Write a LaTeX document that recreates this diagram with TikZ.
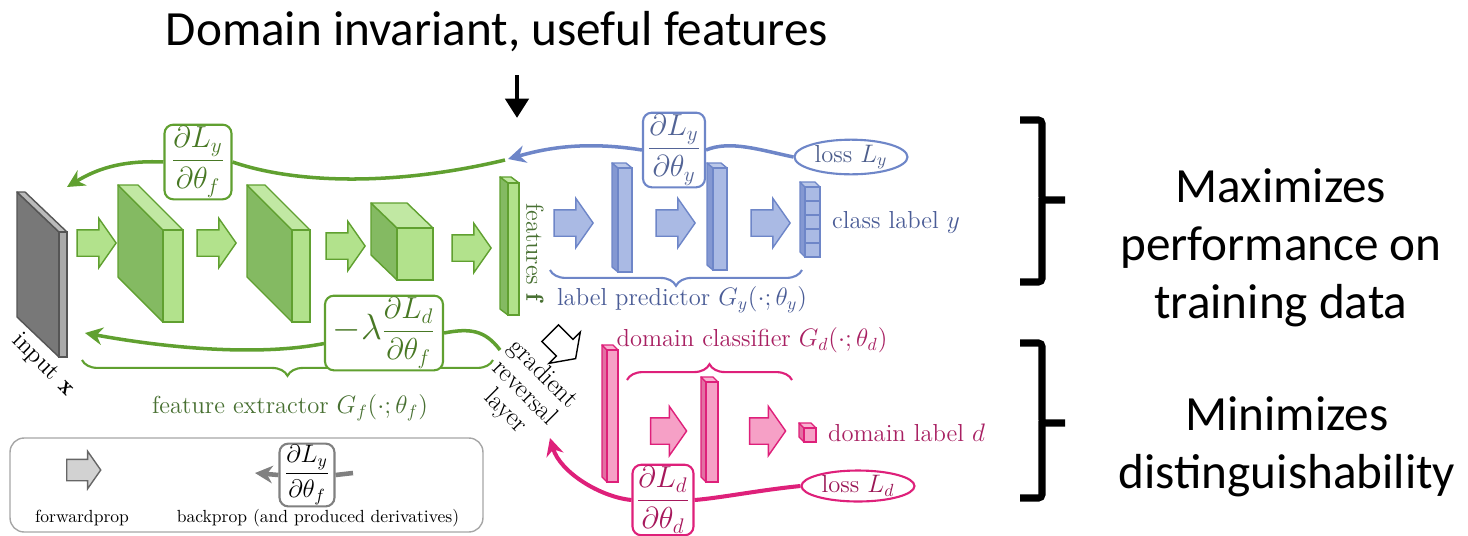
\documentclass[tikz,border=0pt]{standalone}
\usepackage{amsmath}
\usepackage{fontspec}
\newfontfamily\slidefont{Carlito}
\usepackage{tikz}
\usetikzlibrary{shapes.geometric, shapes.arrows, arrows.meta, positioning, decorations.pathreplacing}
\definecolor{inedge}{RGB}{85,85,85}
\definecolor{infront}{RGB}{170,170,170}
\definecolor{inside}{RGB}{120,120,120}
\definecolor{feedge}{RGB}{96,160,48}
\definecolor{fefront}{RGB}{178,226,140}
\definecolor{feside}{RGB}{132,186,98}
\definecolor{fetext}{RGB}{72,112,50}
\definecolor{lpedge}{RGB}{110,134,200}
\definecolor{lpfront}{RGB}{170,186,228}
\definecolor{lpside}{RGB}{132,152,210}
\definecolor{lptext}{RGB}{74,92,150}
\definecolor{dcedge}{RGB}{222,32,122}
\definecolor{dcfront}{RGB}{246,160,198}
\definecolor{dcside}{RGB}{226,112,162}
\definecolor{dctext}{RGB}{168,32,98}

% 3D layer: front top-left corner, width, height, depth offset, edge/front/side colours
\newcommand{\layerblock}[9]{%
  \filldraw[draw=#7, fill=#9, line join=round, line width=0.8pt] (#1,#2) -- ++(-#5,-#6) -- ++(0,#4) -- ++(#5,#6) -- cycle;
  \filldraw[draw=#7, fill=#8!80!white, line join=round, line width=0.8pt] (#1,#2) -- ++(-#5,-#6) -- ++(#3,0) -- ++(#5,#6) -- cycle;
  \filldraw[draw=#7, fill=#8, line width=0.8pt] (#1,#2) rectangle ++(#3,#4);
}

\begin{document}
\begin{tikzpicture}[x=0.02cm, y=-0.02cm,
    lbl/.style={font=\fontsize{14}{14.5}\selectfont},
    headtext/.style={font=\slidefont\fontsize{28}{33}\selectfont},
    fwd/.style 2 args={single arrow, draw=#1, fill=#2, line width=0.8pt, inner xsep=0pt, inner ysep=0.25cm,
      minimum height=0.78cm, single arrow head extend=0.23cm, single arrow tip angle=110},
    dbox/.style={draw=#1, text=#1!75!black, rounded corners=5pt, fill=white, line width=1.2pt,
      inner sep=1pt, font=\fontsize{18}{20}\selectfont},
    loss/.style={ellipse, draw=#1, text=#1!70!black, fill=white, line width=1.2pt, inner sep=0pt,
      minimum width=2.26cm, minimum height=0.62cm, font=\fontsize{14}{16}\selectfont},
    back/.style={draw=#1, line width=2pt},
    backtip/.style={back=#1, -{Stealth[length=10pt, width=10pt]}},
    brc/.style={decorate, decoration={brace, amplitude=9pt}, draw=#1, line width=1.2pt},
    bigbracket/.style={line width=4pt, rounded corners=2pt}
]
\useasboundingbox (0,0) rectangle (1468,535);

% feature extractor
\layerblock{59}{232}{8}{125}{42}{40}{inedge}{infront}{inside}
\layerblock{163}{230}{20}{92}{45}{45}{feedge}{fefront}{feside}
\layerblock{292}{230}{18}{92}{45}{45}{feedge}{fefront}{feside}
\layerblock{397}{228}{36}{52}{26}{25}{feedge}{fefront}{feside}
\layerblock{508}{183}{11}{132}{8}{6}{feedge}{fefront}{feside}
\node[fwd={feedge}{fefront}] (fe1) at (92,243) {};
\node[fwd={feedge}{fefront}] (fe2) at (212,243) {};
\node[fwd={feedge}{fefront}] (fe3) at (341,246) {};
\node[fwd={feedge}{fefront}] (fe4) at (467,248) {};

% label predictor
\layerblock{618}{168}{14}{104}{6}{5}{lpedge}{lpfront}{lpside}
\layerblock{713}{168}{14}{102}{6}{5}{lpedge}{lpfront}{lpside}
\layerblock{805}{187}{15}{70}{5}{5}{lpedge}{lpfront}{lpside}
\foreach \k in {1,...,4}
  \draw[lpedge, line width=0.8pt] (805,{187+14*\k}) -- ++(15,0);
\node[fwd={lpedge}{lpfront}] (lp1) at (569,223) {};
\node[fwd={lpedge}{lpfront}] (lp2) at (671,223) {};
\node[fwd={lpedge}{lpfront}] (lp3) at (766,223) {};

% domain classifier
\layerblock{607}{350}{11}{132}{5}{5}{dcedge}{dcfront}{dcside}
\layerblock{706}{382}{12}{100}{5}{5}{dcedge}{dcfront}{dcside}
\layerblock{804}{428}{12}{14}{5}{5}{dcedge}{dcfront}{dcside}
\node[fwd={dcedge}{dcfront}, minimum height=0.72cm] (dc1) at (664,431) {};
\node[fwd={dcedge}{dcfront}, minimum height=0.72cm] (dc2) at (763,431) {};

% gradient reversal
\node[fwd={black}{white}, minimum height=0.72cm, inner ysep=0.22cm, single arrow head extend=0.21cm, rotate=-45] (grl) at (560,343) {};

% labels
\node[lbl, text=fetext, rotate=-90] (featlbl) at (535,252) {features $\mathbf{f}$};
\node[lbl, rotate=-45] (inputlbl) at (43,365) {input $\mathbf{x}$};
\node[lbl, font=\fontsize{15}{15}\selectfont, rotate=-45, align=center] (grllbl) at (524,393) {gradient\\reversal\\layer};
\node[lbl, text=lptext, anchor=west] (classlbl) at (826,222) {class label $y$};
\node[lbl, text=dctext, anchor=west] (domainlbl) at (822,433) {domain label $d$};
\node[lbl, text=fetext] (felbl) at (290,408) {feature extractor $G_f(\cdot;\theta_f)$};
\node[lbl, text=lptext] (lplbl) at (682,300) {label predictor $G_y(\cdot;\theta_y)$};
\node[lbl, text=dctext] (dclbl) at (752,340) {domain classifier $G_d(\cdot;\theta_d)$};

\draw[brc=feedge, decoration={mirror}] (82,360) -- (493,360);
\draw[brc=lpedge, decoration={mirror}] (550,270) -- (802,270);
\draw[brc=dcedge] (627,380) -- (792,380);

% derivatives and losses
\node[dbox=feedge, minimum width=1.34cm, minimum height=1.4cm] (dLyf) at (198,162) {$\dfrac{\partial L_y}{\partial\theta_f}$};
\node[dbox=lpedge, minimum width=1.24cm, minimum height=1.3cm] (dLyy) at (674,150) {$\dfrac{\partial L_y}{\partial\theta_y}$};
\node[dbox=feedge, minimum width=2.36cm, minimum height=1.34cm] (dLdf) at (384,333) {{\fontsize{21}{22}\selectfont$-\lambda$}$\dfrac{\partial L_d}{\partial\theta_f}$};
\node[dbox=dcedge, minimum width=1.22cm, minimum height=1.3cm] (dLdd) at (663,500) {$\dfrac{\partial L_d}{\partial\theta_d}$};
\node[loss=lpedge] (lossy) at (851,157) {loss $L_y$};
\node[loss=dcedge] (lossd) at (858,486) {loss $L_d$};

\coordinate (gtop) at (505,160);
\coordinate (xtop) at (67,187);
\coordinate (gbot) at (500,350);
\coordinate (xbot) at (85,333);
\coordinate (featin) at (508,159);
\coordinate (grlin) at (550,438);

% backprop
\draw[back=feedge] (gtop) .. controls (400,185) and (300,185) .. (dLyf.east);
\draw[backtip=feedge] (dLyf.west) .. controls (120,160) and (95,170) .. (xtop);
\draw[back=feedge] (gbot) .. controls (485,330) and (470,328) .. (dLdf.east);
\draw[backtip=feedge] ([yshift=-6pt]dLdf.west) .. controls (250,358) and (150,345) .. (xbot);
\draw[back=lpedge] (lossy.west) .. controls (760,150) and (730,140) .. (dLyy.east);
\draw[backtip=lpedge] (dLyy.west) .. controls (580,140) and (540,150) .. (featin);
\draw[back=dcedge, line width=2.3pt] (lossd.west) .. controls (760,490) and (720,498) .. (dLdd.east);
\draw[backtip=dcedge, line width=2.3pt] (dLdd.west) .. controls (600,497) and (560,472) .. (grlin);

% legend
\node[draw=gray!70, rounded corners=8pt, line width=0.8pt, minimum width=9.46cm, minimum height=1.88cm] (legend) at (246.5,485) {};
\node[fwd={gray!80!black}{gray!35}, minimum height=0.68cm, inner ysep=0.2cm, single arrow head extend=0.16cm] (lgfwd) at (80,470) {};
\node[dbox=gray, text=black, font=\fontsize{14}{16}\selectfont, minimum width=1.1cm, minimum height=1.08cm] (lgd) at (307,475) {$\dfrac{\partial L_y}{\partial\theta_f}$};
\coordinate (lgstart) at (353,473);
\coordinate (lgend) at (255,473);
\draw[back=gray, line width=2.6pt] (lgstart) -- (lgd.east);
\draw[backtip=gray, line width=2.6pt] (lgd.west) -- (lgend);
\node[font=\fontsize{10}{12}\selectfont] (fwdlbl) at (82,518) {forwardprop};
\node[font=\fontsize{10}{12}\selectfont] (backlbl) at (318,518) {backprop (and produced derivatives)};

% slide annotations
\node[headtext] (title) at (497,32) {Domain invariant, useful features};
\coordinate (titlearrow) at (517,75);
\coordinate (featpoint) at (517,118);
\draw[line width=2.8pt, -{Triangle[length=11pt, width=13pt]}] (titlearrow) -- (featpoint);

\draw[bigbracket] (1020,120) -| (1042,200) -- (1065,200);
\draw[bigbracket] (1042,198) |- (1020,282);
\draw[bigbracket] (1020,343) -| (1042,423) -- (1065,423);
\draw[bigbracket] (1042,421) |- (1020,498);
\node[headtext, align=center] (maxtext) at (1281,248) {Maximizes\\performance on\\training data};
\node[headtext, align=center] (mintext) at (1287,447) {Minimizes\\distinguishability};
\end{tikzpicture}
\end{document}
